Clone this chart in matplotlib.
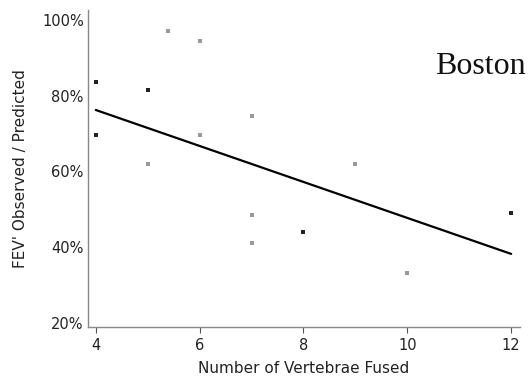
import matplotlib
matplotlib.use("Agg")
import matplotlib.pyplot as plt
import numpy as np

# Data
vertebrae_dark = [4, 4, 5, 8, 12]
fev_dark = [83.6, 69.6, 81.5, 44.0, 49.0]
vertebrae_faint = [5, 5.4, 6, 6, 7, 7, 7, 9, 10]
fev_faint = [62.0, 97.0, 94.5, 69.6, 74.7, 48.5, 41.0, 62.0, 33.2]
fit_x = [4, 12]
fit_y = [76.2, 38.2]
xticks = [4, 6, 8, 10, 12]
yticks = [20, 40, 60, 80, 100]
ytick_labels = ["20%", "40%", "60%", "80%", "100%"]

fig = plt.figure(figsize=(5.31, 3.81), dpi=100)
ax = fig.add_axes([88/531, 1-327/381, (520-88)/531, (327-10)/381])

ax.plot(fit_x, fit_y, color="black", lw=1.6, solid_capstyle="round")
ax.scatter(vertebrae_dark, fev_dark, marker="s", s=6, color="#222222", linewidths=0)
ax.scatter(vertebrae_faint, fev_faint, marker="s", s=5, color="#999999", linewidths=0)

ax.set_xlim(3.85, 12.17)
ax.set_ylim(18.9, 102.6)
ax.set_xticks(xticks)
ax.set_xticklabels([str(t) for t in xticks], fontsize=10.5, color="#222222")
ax.set_yticks(yticks)
ax.set_yticklabels(ytick_labels, fontsize=10.5, color="#222222")
ax.tick_params(axis="y", length=0, pad=3)
ax.tick_params(axis="x", length=4, width=0.8, direction="out", pad=4, colors="#555555", labelcolor="#222222")

for s in ["top", "right"]:
    ax.spines[s].set_visible(False)
ax.spines["left"].set_color("#888888")
ax.spines["left"].set_linewidth(1.0)
ax.spines["bottom"].set_color("#888888")
ax.spines["bottom"].set_linewidth(1.0)

ax.set_xlabel("Number of Vertebrae Fused", fontsize=11, color="#222222", labelpad=6)
ax.set_ylabel("FEV' Observed / Predicted", fontsize=11, color="#222222", labelpad=10)

fig.text(480/531, 1-66/381, "Boston", family="Liberation Serif", fontsize=23,
         ha="center", va="center", color="#111111")

fig.savefig("out.png", dpi=100)
